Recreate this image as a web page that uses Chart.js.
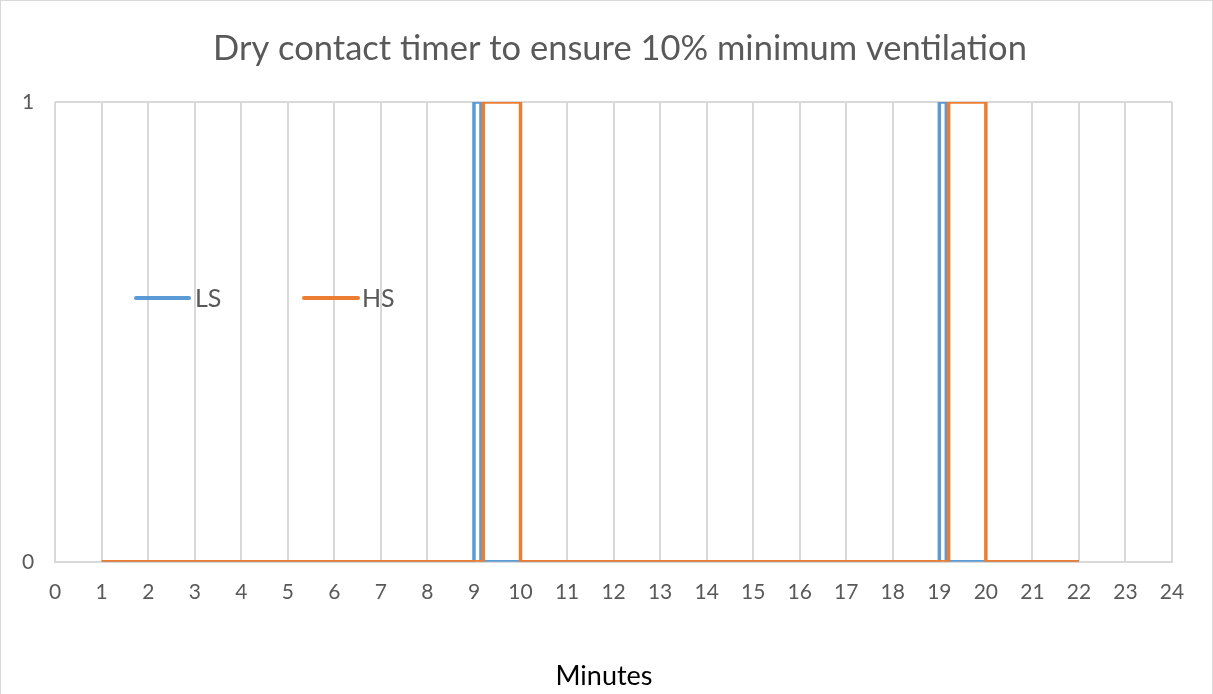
<!DOCTYPE html>
<html>
<head>
<meta charset="utf-8">
<script src="https://cdn.jsdelivr.net/npm/chart.js@4"></script>
<style>
  html, body { margin: 0; padding: 0; background: #fff; }
  #wrap { position: relative; width: 1213px; height: 694px; box-sizing: border-box; border: 1px solid #d9d9d9; border-bottom: none; }
  canvas { display: block; }
</style>
</head>
<body>
<div id="wrap"><canvas id="grafico" width="1211" height="694"></canvas></div>
<script>
// step signals (minutes, on/off)
const lsX = [1, 9, 9, 9.15, 9.15, 19, 19, 19.15, 19.15, 22];
const lsY = [0, 0, 1, 1, 0, 0, 1, 1, 0, 0];
const hsX = [1, 9.2, 9.2, 10, 10, 19.2, 19.2, 20, 20, 22];
const hsY = [0, 0, 1, 1, 0, 0, 1, 1, 0, 0];
const seriesNames = ["LS", "HS"];
const xMin = 0, xMax = 24;
const yTicks = [0, 1];
const titulo = "Dry contact timer to ensure 10% minimum ventilation";
const tituloX = "Minutes";

const colores = ["#5b9bd5", "#ed7d31"];
const gris = "#595959";

function puntos(xs, ys) {
  return xs.map((x, i) => ({ x, y: ys[i] }));
}

// title, axis title and legend drawn by hand (Excel puts them off-centre)
const textosExcel = {
  id: "textosExcel",
  afterDraw(chart) {
    const ctx = chart.ctx;
    ctx.save();
    ctx.textBaseline = "middle";
    ctx.textAlign = "center";

    ctx.fillStyle = gris;
    ctx.font = "34.5px Lato, sans-serif";
    ctx.fillText(titulo, 619, 48);

    ctx.fillStyle = "#000";
    ctx.font = "27px Lato, sans-serif";
    ctx.fillText(tituloX, 603, 675);

    // legend inside the plot
    const y = 297;
    const items = [[135, 188, 194], [303, 357, 361]];
    ctx.textAlign = "left";
    ctx.lineWidth = 4;
    ctx.lineCap = "round";
    ctx.font = "25px Lato, sans-serif";
    chart.data.datasets.forEach((ds, i) => {
      const [x1, x2, tx] = items[i];
      ctx.strokeStyle = ds.borderColor;
      ctx.beginPath();
      ctx.moveTo(x1, y);
      ctx.lineTo(x2, y);
      ctx.stroke();
      ctx.fillStyle = gris;
      ctx.fillText(ds.label, tx, y + 1);
    });
    ctx.restore();
  }
};

new Chart(document.getElementById("grafico"), {
  type: "line",
  data: {
    datasets: [
      { label: seriesNames[0], data: puntos(lsX, lsY), borderColor: colores[0], borderWidth: 3.5, pointRadius: 0, tension: 0, order: 2 },
      { label: seriesNames[1], data: puntos(hsX, hsY), borderColor: colores[1], borderWidth: 3.5, pointRadius: 0, tension: 0, order: 1 }
    ]
  },
  options: {
    responsive: false,
    animation: false,
    layout: { padding: { left: 0, right: 40, top: 101, bottom: 72 } },
    plugins: {
      legend: { display: false },
      tooltip: { enabled: false },
      title: { display: false }
    },
    scales: {
      x: {
        type: "linear",
        min: xMin,
        max: xMax,
        ticks: { stepSize: 1, color: gris, font: { family: "Lato, sans-serif", size: 21 }, padding: 18 },
        grid: { color: "#d9d9d9", lineWidth: 2, drawTicks: false },
        border: { color: "#d9d9d9", width: 2 }
      },
      y: {
        min: 0,
        max: 1,
        afterBuildTicks(scale) { scale.ticks = yTicks.map(v => ({ value: v })); },
        ticks: { color: gris, font: { family: "Lato, sans-serif", size: 21 }, padding: 21 },
        grid: { color: "#d9d9d9", lineWidth: 2, drawTicks: false },
        border: { display: false }
      }
    }
  },
  plugins: [textosExcel]
});
</script>
</body>
</html>
